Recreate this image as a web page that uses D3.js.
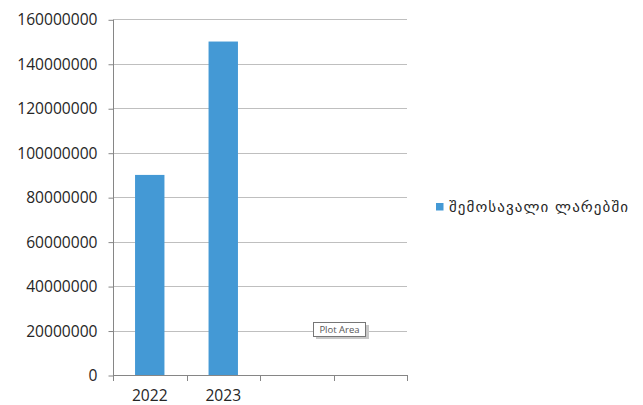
<!DOCTYPE html>
<html><head><meta charset="utf-8">
<script src="https://cdn.jsdelivr.net/npm/d3@7"></script>
<style>body{margin:0;background:#fff}svg{display:block}</style>
</head><body>
<svg id="c" width="643" height="405"></svg>
<script>
const categories = ["2022", "2023", "", ""];
const values = [90000000, 150000000, null, null];
const seriesName = "შემოსავალი ლარებში";
const yTicks = [0, 20000000, 40000000, 60000000, 80000000, 100000000, 120000000, 140000000, 160000000];

const svg = d3.select("#c");
const m = {l: 113, r: 407, t: 19.3, b: 375};
const x = d3.scaleBand().domain(d3.range(categories.length)).range([m.l, m.r]).padding(0);
const y = d3.scaleLinear().domain([0, 160000000]).range([m.b, m.t]);
const font = "'Open Sans', sans-serif";

// gridlines
svg.append("g").selectAll("line").data(yTicks.slice(1)).join("line")
  .attr("x1", m.l).attr("x2", m.r)
  .attr("y1", d => Math.round(y(d)) + 0.5).attr("y2", d => Math.round(y(d)) + 0.5)
  .attr("stroke", "#bfbfbf").attr("stroke-width", 1);

// bars
const bw = x.bandwidth() * 0.4;
svg.append("g").selectAll("rect").data(values.map((v, i) => ({v, i})).filter(d => d.v != null)).join("rect")
  .attr("x", d => x(d.i) + (x.bandwidth() - bw) / 2)
  .attr("width", bw)
  .attr("y", d => y(d.v))
  .attr("height", d => y(0) - y(d.v))
  .attr("fill", "#4499d5");

// y axis
const ya = d3.axisLeft(y).tickValues(yTicks).tickSize(5).tickPadding(11).tickFormat(d => String(d));
const yg = svg.append("g").attr("transform", `translate(${m.l + 0.5},0.5)`).call(ya);
yg.select(".domain").attr("stroke", "#868686").attr("d", `M0,${m.t}V${m.b}`);
yg.selectAll(".tick line").attr("stroke", "#868686");
yg.selectAll(".tick text").attr("font-family", font).attr("font-size", "15.6px").attr("fill", "#262626");

// x axis
const xEdges = d3.range(categories.length + 1).map(i => m.l + i * x.bandwidth());
const xg = svg.append("g");
xg.append("line").attr("x1", m.l).attr("x2", m.r).attr("y1", Math.round(m.b) + 0.5).attr("y2", Math.round(m.b) + 0.5).attr("stroke", "#868686");
xg.selectAll("line.tk").data(xEdges).join("line").attr("class", "tk")
  .attr("x1", d => Math.round(d) + 0.5).attr("x2", d => Math.round(d) + 0.5)
  .attr("y1", Math.round(m.b)).attr("y2", Math.round(m.b) + 6).attr("stroke", "#868686");
xg.selectAll("text").data(categories).join("text")
  .attr("x", (d, i) => x(i) + x.bandwidth() / 2).attr("y", 400.5)
  .attr("text-anchor", "middle").attr("font-family", font).attr("font-size", "15.6px").attr("fill", "#262626")
  .text(d => d);

// legend
const lg = svg.append("g");
lg.append("rect").attr("x", 436).attr("y", 203).attr("width", 7.5).attr("height", 7.5).attr("fill", "#4499d5");
lg.append("text").attr("x", 449).attr("y", 212).attr("font-family", "'DejaVu Sans', sans-serif")
  .attr("font-size", "15px").attr("fill", "#262626").attr("textLength", 179).text(seriesName);

// "Plot Area" tooltip
const tp = svg.append("g");
tp.append("rect").attr("x", 316).attr("y", 325).attr("width", 53).attr("height", 14).attr("fill", "#c8c8c8");
tp.append("rect").attr("x", 313.5).attr("y", 322.5).attr("width", 52).attr("height", 14).attr("fill", "#fff").attr("stroke", "#767676");
tp.append("text").attr("x", 339.5).attr("y", 333).attr("text-anchor", "middle").attr("font-family", font)
  .attr("font-size", "9.5px").attr("fill", "#575757").text("Plot Area");
</script>
</body></html>
